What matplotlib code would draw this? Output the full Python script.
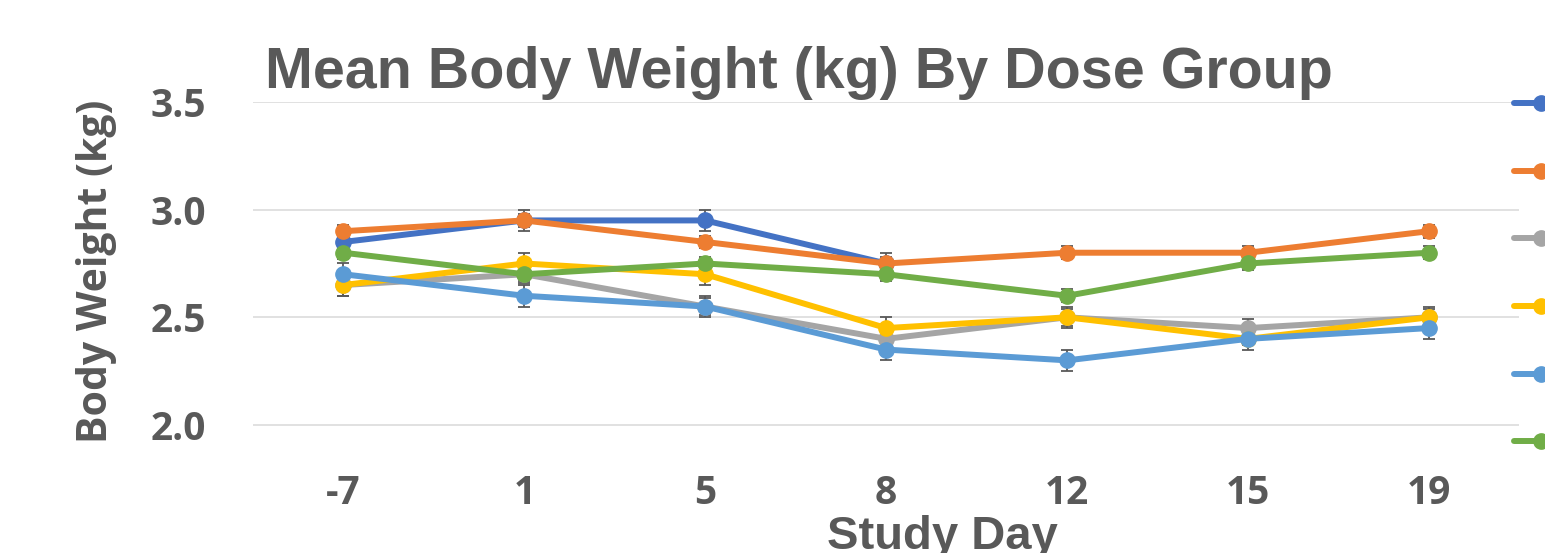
import numpy as np
import matplotlib
matplotlib.use("Agg")
import matplotlib.pyplot as plt

days = ["-7", "1", "5", "8", "12", "15", "19"]

# mean body weight per dose group (kg); group 1 has no data after day 8
g1 = [2.85, 2.95, 2.95, 2.75, np.nan, np.nan, np.nan]
g2 = [2.90, 2.95, 2.85, 2.75, 2.80, 2.80, 2.90]
g3 = [2.65, 2.70, 2.55, 2.40, 2.50, 2.45, 2.50]
g4 = [2.65, 2.75, 2.70, 2.45, 2.50, 2.40, 2.50]
g5 = [2.70, 2.60, 2.55, 2.35, 2.30, 2.40, 2.45]
g6 = [2.80, 2.70, 2.75, 2.70, 2.60, 2.75, 2.80]

# error bar half widths
e1 = [0.03, 0.05, 0.05, 0.05, np.nan, np.nan, np.nan]
e2 = [0.03, 0.03, 0.03, 0.03, 0.03, 0.03, 0.03]
e3 = [0.05, 0.04, 0.04, 0.04, 0.04, 0.04, 0.04]
e4 = [0.05, 0.05, 0.05, 0.05, 0.05, 0.03, 0.05]
e5 = [0.05, 0.05, 0.05, 0.05, 0.05, 0.05, 0.05]
e6 = [0.03, 0.03, 0.03, 0.03, 0.03, 0.03, 0.03]

groups = [g1, g2, g3, g4, g5, g6]
errs = [e1, e2, e3, e4, e5, e6]
colors = ["#4472C4", "#ED7D31", "#A5A5A5", "#FFC000", "#5B9BD5", "#70AD47"]

txt = "#595959"

fig = plt.figure(figsize=(15.45, 5.53), dpi=100)
ax = fig.add_axes([0.16375, 0.1537, 0.8197, 0.6618])

x = np.arange(len(days))
handles = []
for y, e, c in zip(groups, errs, colors):
    ax.errorbar(x, y, yerr=e, fmt="none", ecolor=txt, elinewidth=1.3,
                capsize=4.5, capthick=1.3, zorder=2)
    h, = ax.plot(x, y, color=c, lw=4.3, marker="o", ms=11,
                 solid_capstyle="round", zorder=3)
    handles.append(h)

ax.set_xlim(-0.5, len(days) - 0.5)
ax.set_ylim(1.8, 3.5)
ax.set_yticks([2.0, 2.5, 3.0, 3.5])
ax.set_yticklabels(["2.0", "2.5", "3.0", "3.5"])
ax.set_xticks(x)
ax.set_xticklabels(days)
ax.yaxis.grid(True, color="#D9D9D9", lw=1.1)
ax.set_axisbelow(True)
for s in ax.spines.values():
    s.set_visible(False)
ax.tick_params(length=0, colors=txt, labelsize=28)
ax.tick_params(axis="y", pad=34)
ax.tick_params(axis="x", pad=4)
for lab in ax.get_xticklabels() + ax.get_yticklabels():
    lab.set_fontfamily("Open Sans")
    lab.set_fontweight("bold")

fig.text(265 / 1545, 1 - 88 / 553, "Mean Body Weight (kg) By Dose Group",
         fontsize=41.3, fontweight="bold", color=txt, family="Liberation Sans",
         ha="left", va="baseline")
fig.text(97 / 1545, 1 - 271 / 553, "Body Weight (kg)", rotation=90,
         fontsize=29.5, fontweight="bold", color=txt, family="Open Sans",
         ha="center", va="center")
fig.text(942 / 1545, 1 - 515 / 553, "Study Day",
         fontsize=34, fontweight="bold", color=txt, family="Liberation Sans",
         ha="center", va="top")

# legend mostly cut off at the right edge, as in the original
fig.legend(handles, [" "] * 6, loc="upper left",
           bbox_to_anchor=(1514 / 1545, 1 - 95 / 553), frameon=False,
           fontsize=14, handlelength=2.8, labelspacing=2.5,
           borderpad=0, borderaxespad=0, handletextpad=0.3)

fig.savefig("out.png", dpi=100)
